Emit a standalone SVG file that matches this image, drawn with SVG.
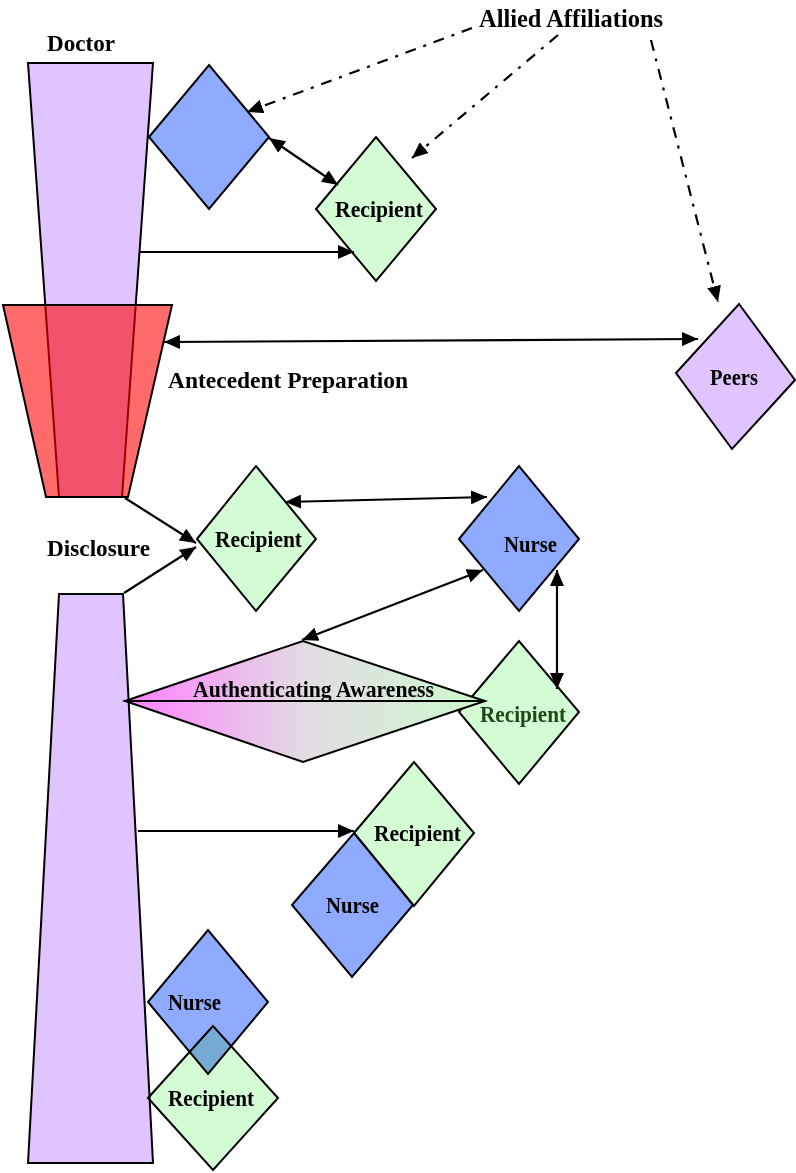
<svg xmlns="http://www.w3.org/2000/svg" width="796" height="1173" viewBox="0 0 796 1173">
<style>
text{font-family:"Liberation Serif","DejaVu Serif",serif;font-weight:bold;font-size:23px;fill:#000}
.big{font-size:25px}
.s{stroke:#000;stroke-width:2}
.purple{fill:#e0c4ff}
.blue{fill:#8eabff}
.green{fill:#d4fcd4}
.ln{fill:none;stroke:#000;stroke-width:2.2}
.dd{stroke-dasharray:11 8 3 8}
</style>
<defs>
<marker id="ah" viewBox="0 0 16 14" refX="16" refY="7" markerWidth="16" markerHeight="14" markerUnits="userSpaceOnUse" orient="auto-start-reverse">
<path d="M0,0 L16,7 L0,14 z" fill="#000"/>
</marker>
<linearGradient id="ag" x1="0" y1="0" x2="1" y2="0">
<stop offset="0" stop-color="#ff80ff"/>
<stop offset="0.5" stop-color="#e2dce2"/>
<stop offset="1" stop-color="#ccfacc"/>
</linearGradient>
</defs>

<g id="doctor">
<polygon class="purple s" points="28,63 153,63 122,497 59,497"/>
<text x="47" y="51" textLength="68" lengthAdjust="spacingAndGlyphs">Doctor</text>
</g>
<g id="antecedent">
<polygon points="3,305 172,305 128,497 46,497" fill="#ff0000" fill-opacity="0.58" stroke="#000" stroke-width="2"/>
<text x="168" y="388" textLength="240" lengthAdjust="spacingAndGlyphs">Antecedent Preparation</text>
</g>
<g id="disclosure">
<polygon class="purple s" points="59,594 123,594 153,1163 28,1163"/>
<text x="47" y="556" textLength="103" lengthAdjust="spacingAndGlyphs">Disclosure</text>
</g>
<g id="allied">
<text class="big" x="479" y="27" textLength="184" lengthAdjust="spacingAndGlyphs">Allied Affiliations</text>
</g>
<g id="blue-top">
<polygon class="blue s" points="149,137 209,65 269,137 209,209"/>
</g>
<g id="recipient-top">
<polygon class="green s" points="316,209 376,137 436,209 376,281"/>
<text x="335" y="217" textLength="88" lengthAdjust="spacingAndGlyphs">Recipient</text>
</g>
<g id="peers">
<polygon class="purple s" points="676,373 739,304 795,380 732,449"/>
<text x="710" y="385" textLength="48" lengthAdjust="spacingAndGlyphs">Peers</text>
</g>
<g id="recipient-mid1">
<polygon class="green s" points="197,539 256,466 316,539 256,611"/>
<text x="215" y="547" textLength="87" lengthAdjust="spacingAndGlyphs">Recipient</text>
</g>
<g id="nurse-mid">
<polygon class="blue s" points="459,539 519,466 579,539 519,611"/>
<text x="504" y="552" textLength="53" lengthAdjust="spacingAndGlyphs">Nurse</text>
</g>
<g id="recipient-mid2">
<polygon class="green s" points="459,712 519,641 579,712 519,784"/>
<text x="480" y="722" textLength="86" lengthAdjust="spacingAndGlyphs" style="fill:#1a4a1a">Recipient</text>
</g>
<g id="authenticating">
<path d="M125,701 L303,641 L485,701 L303,762 Z M125,701 L485,701" fill="url(#ag)" stroke="#000" stroke-width="2" stroke-linejoin="miter"/>
<text x="193" y="697" textLength="241" lengthAdjust="spacingAndGlyphs">Authenticating Awareness</text>
</g>
<g id="recipient-low">
<polygon class="green s" points="354,833 414,762 474,833 414,906"/>
<text x="374" y="841" textLength="87" lengthAdjust="spacingAndGlyphs">Recipient</text>
</g>
<g id="nurse-low">
<polygon class="blue s" points="292,905 354,833 413,905 352,977"/>
<text x="326" y="913" textLength="53" lengthAdjust="spacingAndGlyphs">Nurse</text>
</g>
<g id="nurse-bottom">
<polygon class="blue s" points="148,1002 208,930 268,1002 208,1074"/>
<text x="168" y="1010" textLength="53" lengthAdjust="spacingAndGlyphs">Nurse</text>
</g>
<g id="recipient-bottom">
<polygon class="green s" points="148,1098 213,1026 278,1098 213,1170" style="mix-blend-mode:multiply"/>
<text x="168" y="1106" textLength="86" lengthAdjust="spacingAndGlyphs">Recipient</text>
</g>

<g id="connectors">
<line class="ln dd" x1="472" y1="28" x2="247" y2="112" marker-end="url(#ah)"/>
<line class="ln dd" x1="558" y1="35" x2="412" y2="158" marker-end="url(#ah)"/>
<line class="ln dd" x1="651" y1="40" x2="718" y2="302" marker-end="url(#ah)"/>
<line class="ln" x1="269" y1="138" x2="338" y2="185" marker-start="url(#ah)" marker-end="url(#ah)"/>
<line class="ln" x1="140" y1="252" x2="354" y2="252" marker-end="url(#ah)"/>
<line class="ln" x1="164" y1="342" x2="698" y2="339" marker-start="url(#ah)" marker-end="url(#ah)"/>
<line class="ln" x1="125" y1="498" x2="196" y2="543" marker-end="url(#ah)"/>
<line class="ln" x1="124" y1="593" x2="196" y2="547" marker-end="url(#ah)"/>
<line class="ln" x1="285" y1="502" x2="487" y2="497" marker-start="url(#ah)" marker-end="url(#ah)"/>
<line class="ln" x1="302" y1="640" x2="483" y2="570" marker-start="url(#ah)" marker-end="url(#ah)"/>
<line class="ln" x1="557" y1="570" x2="557" y2="689" marker-start="url(#ah)" marker-end="url(#ah)"/>
<line class="ln" x1="138" y1="831" x2="354" y2="831" marker-end="url(#ah)"/>
</g>
</svg>
